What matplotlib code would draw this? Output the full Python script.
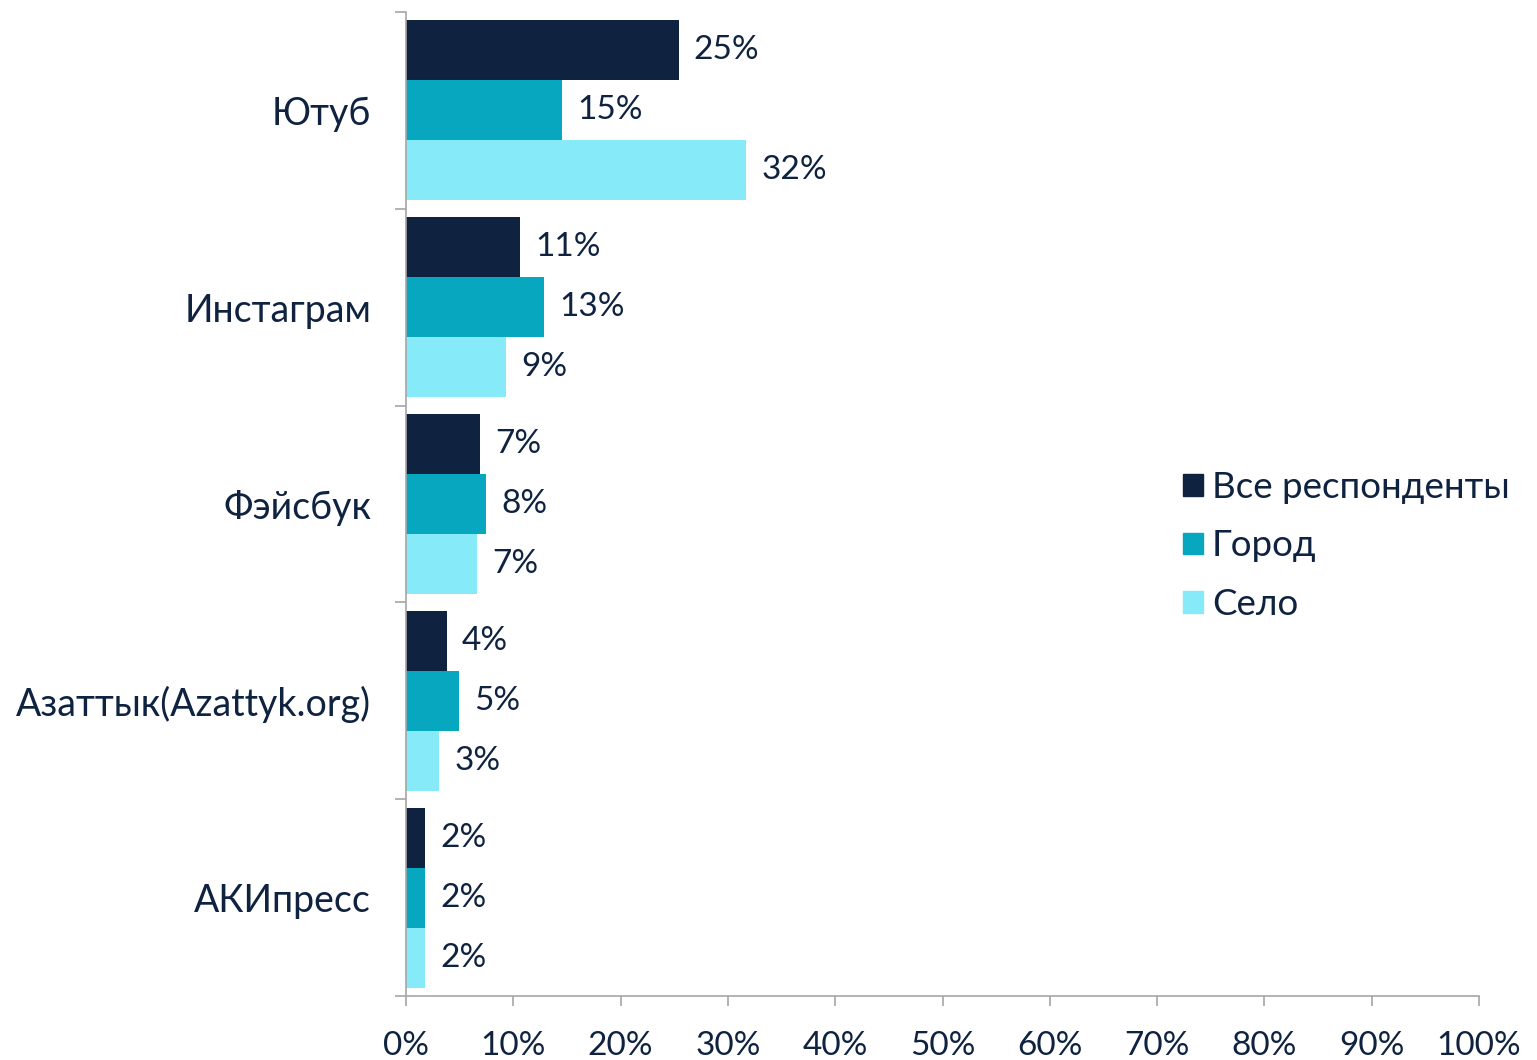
import matplotlib
matplotlib.use('Agg')
import matplotlib.pyplot as plt
import numpy as np
from matplotlib.patches import Patch

kategorie = ['Ютуб', 'Инстаграм', 'Фэйсбук', 'Азаттык(Azattyk.org)', 'АКИпресс']
serie = ['Все респонденты', 'Город', 'Село']
wszyscy = [25.4, 10.6, 6.9, 3.8, 1.8]
miasto = [14.5, 12.9, 7.5, 4.9, 1.8]
wies = [31.7, 9.3, 6.6, 3.1, 1.8]
etykiety = [
    ['25%', '11%', '7%', '4%', '2%'],
    ['15%', '13%', '8%', '5%', '2%'],
    ['32%', '9%', '7%', '3%', '2%'],
]
kolory = ['#0F2340', '#06A7BF', '#87EAF8']
tekst = '#0F2340'
szary = '#A6A6A6'

plt.rcParams['font.family'] = ['Lato', 'DejaVu Sans']
plt.rcParams['font.size'] = 24

fig = plt.figure(figsize=(15.37, 10.6), dpi=100)
ax = fig.add_axes([406/1537, 1 - 996/1060, (1479-406)/1537, (996-12)/1060])

y = np.arange(len(kategorie))
h = 0.305
for i, (vals, kol) in enumerate(zip([wszyscy, miasto, wies], kolory)):
    pos = y + (i - 1) * h
    bars = ax.barh(pos, vals, height=h, color=kol, label=serie[i])
    for b, lab in zip(bars, etykiety[i]):
        ax.annotate(lab, (b.get_width(), b.get_y() + b.get_height()/2),
                    xytext=(11, 0), textcoords='offset points',
                    va='center', ha='left', color=tekst, fontsize=24)

ax.set_ylim(len(kategorie) - 0.5, -0.5)
ax.set_xlim(0, 100)
ax.set_xticks(np.arange(0, 101, 10))
ax.set_xticklabels([f'{v}%' for v in range(0, 101, 10)])
ax.set_yticks(y)
ax.set_yticklabels(kategorie)
ax.set_yticks(np.arange(-0.5, len(kategorie)), minor=True)
ax.tick_params(axis='y', which='major', length=0, pad=25, colors=tekst, labelsize=27)
ax.tick_params(axis='y', which='minor', length=8, color=szary, width=1.2)
ax.tick_params(axis='x', which='major', length=7, color=szary, width=1.2, pad=18,
               labelcolor=tekst, labelsize=24)
for s in ['top', 'right']:
    ax.spines[s].set_visible(False)
for s in ['left', 'bottom']:
    ax.spines[s].set_color(szary)
    ax.spines[s].set_linewidth(1.2)

uchwyty = [Patch(color=k) for k in kolory]
fig.legend(uchwyty, serie, loc='center left', bbox_to_anchor=(1183/1537, 1 - 546/1060),
           frameon=False, borderpad=0, borderaxespad=0,
           handlelength=0.54, handleheight=0.54, handletextpad=0.25,
           labelspacing=0.70, fontsize=26.5, labelcolor=tekst)

fig.savefig('out.png', dpi=100)
